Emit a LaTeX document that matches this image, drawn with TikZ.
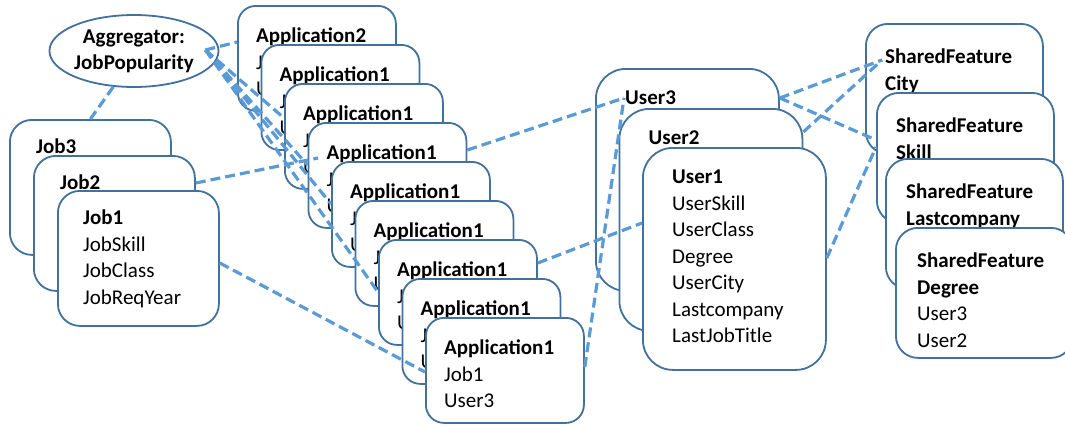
\documentclass[tikz,border=0pt]{standalone}
\usepackage{fontspec}
\setmainfont{Carlito}
\usetikzlibrary{shapes.geometric}
\definecolor{cardline}{HTML}{41719C}
\definecolor{linkblue}{HTML}{5B9BD5}
\tikzset{
	card/.style={draw=cardline, line width=1.8pt, fill=white, anchor=north west, inner sep=0pt},
	jobcard/.style={card, rounded corners=22pt, minimum width=161pt, minimum height=135pt},
	appcard/.style={card, rounded corners=18pt, minimum width=158pt, minimum height=105pt},
	usercard/.style={card, rounded corners=30pt, minimum width=183pt, minimum height=222pt},
	featcard/.style={card, rounded corners=22pt, minimum width=177pt, minimum height=130pt},
	cardtext/.style={anchor=north west, inner sep=0pt, align=left, font=\fontsize{21}{26.5}\selectfont},
	link/.style={draw=linkblue, line width=3.2pt, dash pattern=on 10pt off 5pt}
}

\begin{document}
\begin{tikzpicture}[x=1pt, y=-1pt]
			%%%%% START %%%%%
			\useasboundingbox (0,0) rectangle (1065,426);
			
			% jobs
			\node[jobcard] (j3) at (9,119) {};
			\node[cardtext] (j3t) at ([shift={(27,20)}]j3.north west) {\textbf{Job3}};
			\node[jobcard] (j2) at (33,155) {};
			\node[cardtext] (j2t) at ([shift={(27,20)}]j2.north west) {\textbf{Job2}};
			\node[jobcard] (j1) at (57,190) {};
			\node[cardtext] (j1t) at ([shift={(26,20)}]j1.north west) {\textbf{Job1}\\JobSkill\\JobClass\\JobReqYear};
			
			% applications
			\node[appcard] (a0) at (237,5) {};
			\node[cardtext] (a0t) at ([shift={(19,23)}]a0.north west) {\textbf{Application2}\\Job2\\User3};
			\node[appcard] (a1) at (260.5,44) {};
			\node[cardtext] (a1t) at ([shift={(19,23)}]a1.north west) {\textbf{Application1}\\Job1\\User3};
			\node[appcard] (a2) at (284,83) {};
			\node[cardtext] (a2t) at ([shift={(19,23)}]a2.north west) {\textbf{Application1}\\Job1\\User3};
			\node[appcard] (a3) at (307.5,122) {};
			\node[cardtext] (a3t) at ([shift={(19,23)}]a3.north west) {\textbf{Application1}\\Job1\\User3};
			\node[appcard] (a4) at (331,161) {};
			\node[cardtext] (a4t) at ([shift={(19,23)}]a4.north west) {\textbf{Application1}\\Job1\\User3};
			\node[appcard] (a5) at (354.5,200) {};
			\node[cardtext] (a5t) at ([shift={(19,23)}]a5.north west) {\textbf{Application1}\\Job1\\User3};
			\node[appcard] (a6) at (378,239) {};
			\node[cardtext] (a6t) at ([shift={(19,23)}]a6.north west) {\textbf{Application1}\\Job1\\User3};
			\node[appcard] (a7) at (401.5,278) {};
			\node[cardtext] (a7t) at ([shift={(19,23)}]a7.north west) {\textbf{Application1}\\Job1\\User3};
			\node[appcard] (a8) at (425,317) {};
			\node[cardtext] (a8t) at ([shift={(19,23)}]a8.north west) {\textbf{Application1}\\Job1\\User3};
			
			% users
			\node[usercard] (u3) at (595,68) {};
			\node[cardtext] (u3t) at ([shift={(30,23)}]u3.north west) {\textbf{User3}};
			\node[usercard] (u2) at (618.5,108) {};
			\node[cardtext] (u2t) at ([shift={(30,23)}]u2.north west) {\textbf{User2}};
			\node[usercard] (u1) at (642,147) {};
			\node[cardtext] (u1t) at ([shift={(30,23)}]u1.north west) {\textbf{User1}\\UserSkill\\UserClass\\Degree\\UserCity\\Lastcompany\\LastJobTitle};
			
			% shared features
			\node[featcard] (fc) at (865,23) {};
			\node[cardtext] (fct) at ([shift={(20,26)}]fc.north west) {\textbf{SharedFeature}\\\textbf{City}};
			\node[featcard] (fs) at (876,92) {};
			\node[cardtext] (fst) at ([shift={(20,26)}]fs.north west) {\textbf{SharedFeature}\\\textbf{Skill}};
			\node[featcard] (fl) at (885,158) {};
			\node[cardtext] (flt) at ([shift={(21,26)}]fl.north west) {\textbf{SharedFeature}\\\textbf{Lastcompany}};
			\node[featcard] (fd) at (895,227) {};
			\node[cardtext] (fdt) at ([shift={(22,26)}]fd.north west) {\textbf{SharedFeature}\\\textbf{Degree}\\User3\\User2};
			
			% aggregator
			\node[ellipse, draw=cardline, line width=1.8pt, fill=white, minimum width=164pt, minimum height=72pt, inner sep=0pt, align=center, font=\bfseries\fontsize{21}{26}\selectfont] (agg) at (134,51) {Aggregator:\\JobPopularity};
			
			% connectors
			\coordinate (aggpt) at ([shift={(-14,-1)}]agg.east);
			\coordinate (u3pt) at ([shift={(29,30)}]u3.north west);
			\coordinate (fcpt) at ([shift={(17,37)}]fc.north west);
			
			\draw[link] (agg.240) -- (j3.north);
			\draw[link] (aggpt) -- ([shift={(0,37)}]a0.north west);
			\draw[link] (aggpt) -- ([shift={(0,35)}]a2.north west);
			\draw[link] (aggpt) -- ([shift={(0,43)}]a3.north west);
			\draw[link] (aggpt) -- ([shift={(0,43)}]a4.north west);
			\draw[link] (aggpt) -- ([shift={(0,53)}]a6.north west);
			
			\draw[link] ([shift={(0,28)}]j2.north east) -- ([shift={(10.5,36)}]a3.north west);
			\draw[link] ([shift={(0,73)}]j1.north east) -- ([shift={(0,55)}]a8.north west);
			
			\draw[link] ([shift={(0,28)}]a3.north east) -- (u3pt);
			\draw[link] ([shift={(0,50)}]a8.north east) -- (u3pt);
			\draw[link] ([shift={(0,24)}]a6.north east) -- ([shift={(0,76)}]u1.north west);
			
			\draw[link] ([shift={(0,30)}]u3.north east) -- (fcpt);
			\draw[link] ([shift={(0,30)}]u3.north east) -- ([shift={(0,48)}]fs.north west);
			\draw[link] ([shift={(0,24)}]u2.north east) -- (fcpt);
			\draw[link] ([shift={(0,111)}]u1.north east) -- ([shift={(0,55)}]fs.north west);
			
			%%%%% END %%%%%
\end{tikzpicture}
\end{document}
